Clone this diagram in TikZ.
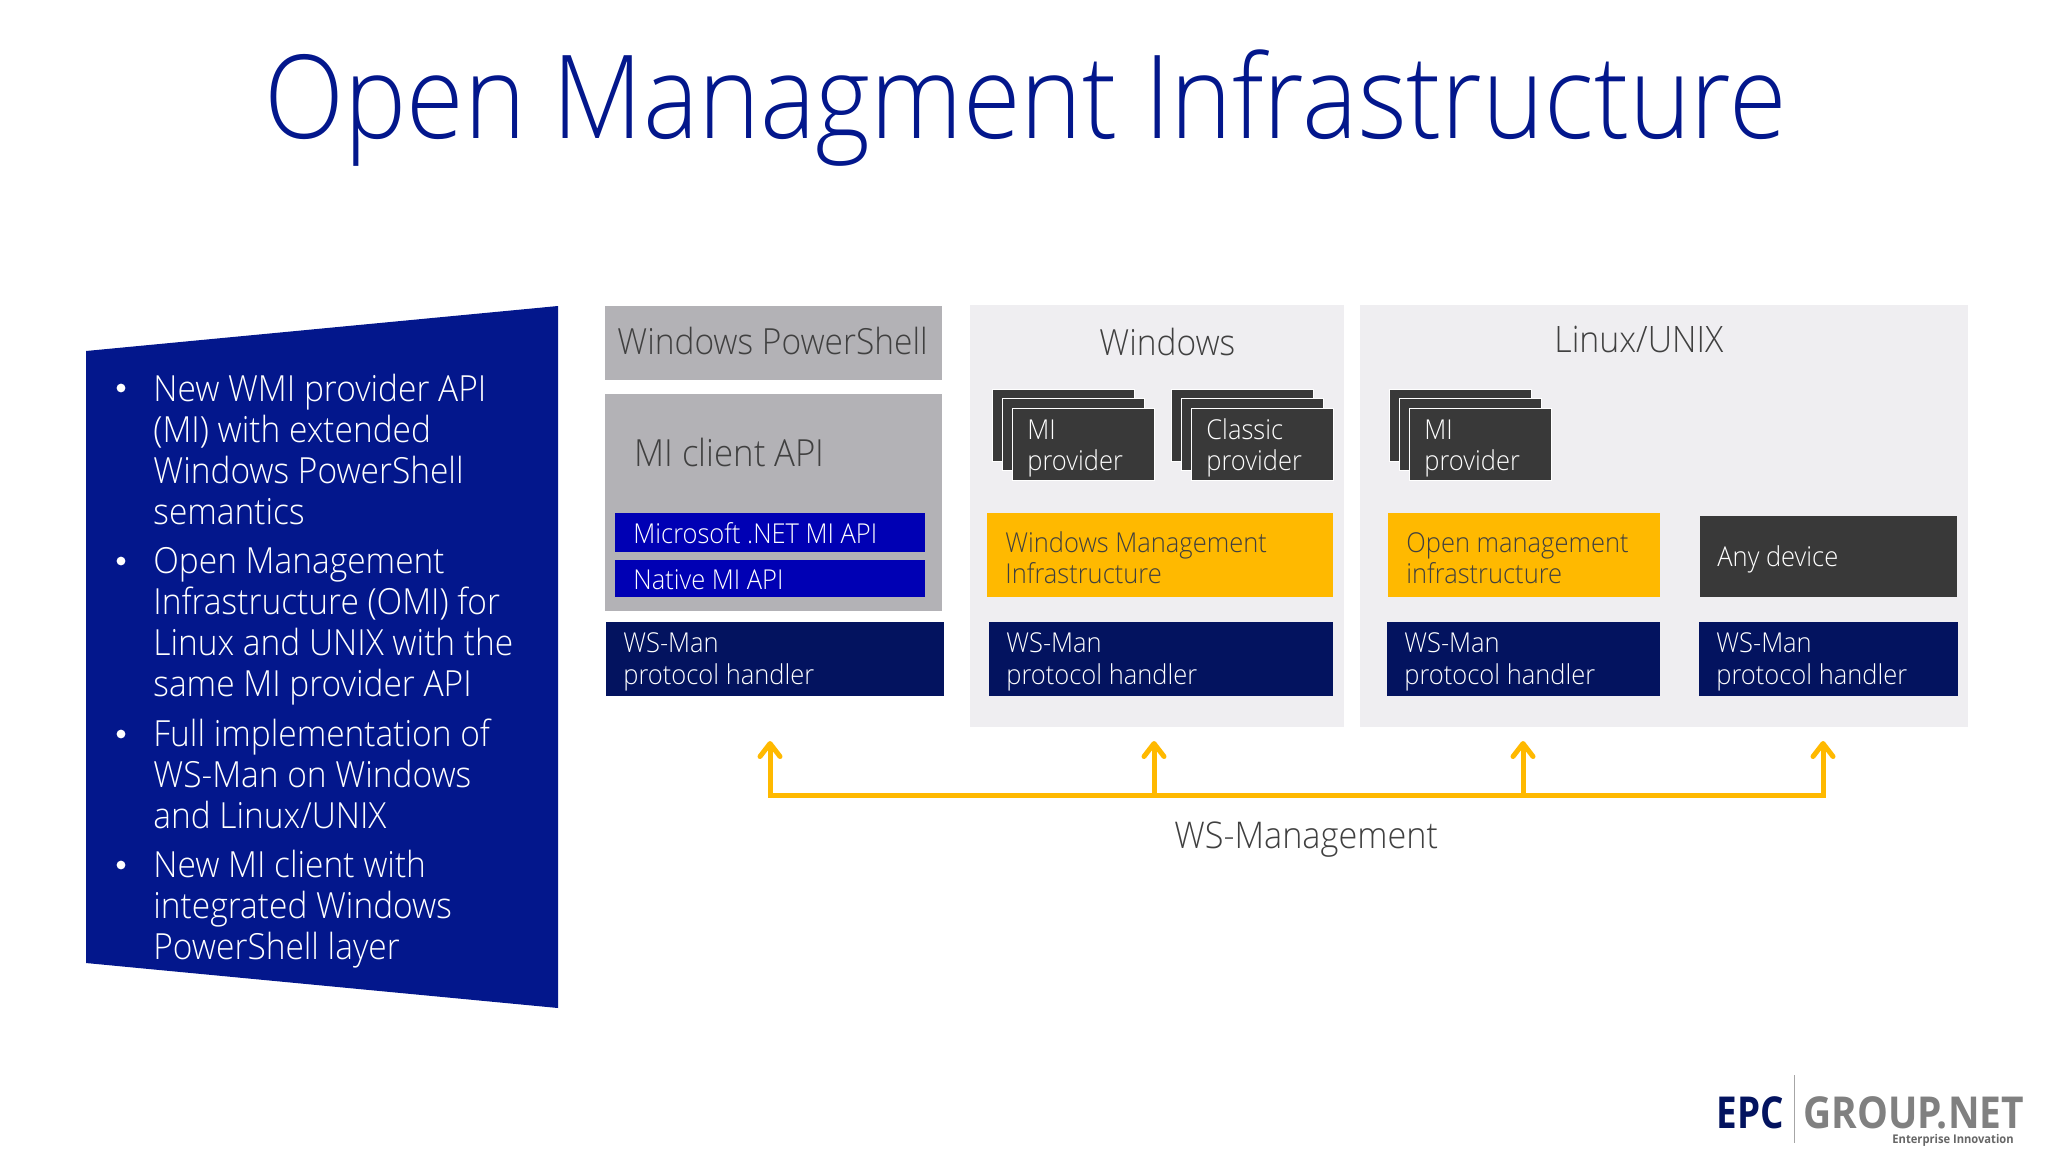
\documentclass[tikz,border=0pt]{standalone}
\usepackage{fontspec}
\setmainfont{Open Sans Light}[FakeStretch=0.93,BoldFont={Open Sans Bold}]
\usetikzlibrary{arrows.meta}
\definecolor{navy}{HTML}{03178C}
\definecolor{bluebtn}{HTML}{0000B4}
\definecolor{deepnavy}{HTML}{03135F}
\definecolor{gold}{HTML}{FFB900}
\definecolor{panel}{HTML}{EFEEF1}
\definecolor{midgray}{HTML}{B3B2B6}
\definecolor{dark}{HTML}{393939}
\definecolor{ink}{HTML}{404040}
\tikzset{
  px/.style={x=0.5pt,y=-0.5pt},
  lab/.style={inner sep=0pt,anchor=base west,align=left},
  stackcard/.style={fill=dark,draw=white,line width=0.5pt},
  wire/.style={draw=gold,line width=2.5pt},
  arrowup/.style={wire,-{Straight Barb[length=6.5pt,width=10pt,line width=2.5pt,round]}},
  whitetxt/.style={lab,text=white,font=\fontsize{13.7}{15.5}\selectfont},
  inktxt/.style={lab,text=ink,font=\fontsize{13.7}{15.5}\selectfont},
  headtxt/.style={lab,text=ink,font=\fontsize{18}{20}\selectfont},
}
\begin{document}
\begin{tikzpicture}[px]
\useasboundingbox (0,0) rectangle (2048,1152);
\fill[white] (0,0) rectangle (2048,1152);
\node[lab,text=navy,font=\fontsize{58}{70}\selectfont] (title) at (264,138) {\scalebox{0.97}[1]{Open Managment Infrastructure}};
\fill[navy] (86,351) -- (558,306) -- (558,1008) -- (86,963) -- cycle;
\foreach \y/\t in {401/{New WMI provider API},442/{(MI) with extended},483/{Windows PowerShell},524/{semantics},
 573/{Open Management},614/{Infrastructure (OMI) for},655/{Linux and UNIX with the},696/{same MI provider API},
 746/{Full implementation of},787/{WS-Man on Windows},828/{and Linux/UNIX},
 877/{New MI client with},918/{integrated Windows},959/{PowerShell layer}}
  \node[lab,text=white,font=\fontsize{18}{20}\selectfont] at (153,\y) {\t};
\foreach \y in {388,561,734,865}
  \fill[white] (121,\y) circle (2.2pt);
\fill[panel] (970,305) rectangle (1344,727);
\fill[panel] (1360,305) rectangle (1968,727);
\fill[midgray] (605,306) rectangle (942,380);
\fill[midgray] (605,394) rectangle (942,611);
\node[headtxt] (wps) at (617,354) {Windows PowerShell};
\node[headtxt,font=\fontsize{18.7}{20}\selectfont] (mic) at (634,466) {MI client API};
\node[headtxt] (win) at (1099,355) {Windows};
\node[headtxt,font=\fontsize{18.2}{20}\selectfont] (lin) at (1554,352) {Linux/UNIX};
\fill[bluebtn] (615,513) rectangle (925,552);
\fill[bluebtn] (615,560) rectangle (925,597);
\node[whitetxt] (net) at (633,543) {Microsoft .NET MI API};
\node[whitetxt] (nat) at (633,589) {Native MI API};
\foreach \a/\b/\c in {606/944/a,989/1333/b,1387/1660/c,1699/1958/d}{
  \fill[deepnavy] (\a,622) rectangle (\b,696);
  \node[whitetxt] (ws\c) at (\a+17,652) {WS-Man};
  \node[whitetxt] at (\a+17,684) {protocol handler};
}
\foreach \x/\l/\n in {992/MI/p,1171/Classic/q,1389/MI/r}{
  \fill[stackcard] (\x,389) rectangle +(142,72);
  \fill[stackcard] (\x+10,398) rectangle +(142,72);
  \fill[stackcard] (\x+20,408) rectangle +(142,72);
  \node[whitetxt] (st\n) at (\x+35,439) {\l};
  \node[whitetxt] at (\x+35,470) {provider};
}
\fill[gold] (987,513) rectangle (1333,597);
\fill[gold] (1388,513) rectangle (1660,597);
\fill[dark] (1700,516) rectangle (1957,597);
\node[inktxt] at (1005,552) {Windows Management};
\node[inktxt] at (1005,583) {Infrastructure};
\node[inktxt] at (1406,552) {Open management};
\node[inktxt] at (1406,583) {infrastructure};
\node[whitetxt] at (1717,566) {Any device};
\coordinate (b1) at (770,795); \coordinate (b2) at (1154,795);
\coordinate (b3) at (1523,795); \coordinate (b4) at (1823,795);
\coordinate (t1) at (770,741); \coordinate (t2) at (1154,741);
\coordinate (t3) at (1523,741); \coordinate (t4) at (1823,741);
\draw[wire,line cap=rect] (b1) -- (b4);
\foreach \i in {1,2,3,4} \draw[arrowup] (b\i) -- (t\i);
\node[headtxt,font=\fontsize{18.4}{20}\selectfont] (wsm) at (1174,848) {WS-Management};
\draw[gray!70,line width=0.5pt] (1794,1075) -- (1794,1143);
\node[lab,text=deepnavy,font=\bfseries\fontsize{22}{24}\selectfont] (epc) at (1716,1128) {\scalebox{0.9}[1]{EPC}};
\node[lab,text=gray,font=\bfseries\fontsize{22}{24}\selectfont] (grp) at (1803,1128) {\scalebox{0.95}[1]{GROUP.NET}};
\node[lab,text=gray!80!black,font=\bfseries\fontsize{6}{6}\selectfont] (ent) at (1892,1143) {Enterprise Innovation};
\end{tikzpicture}
\end{document}
